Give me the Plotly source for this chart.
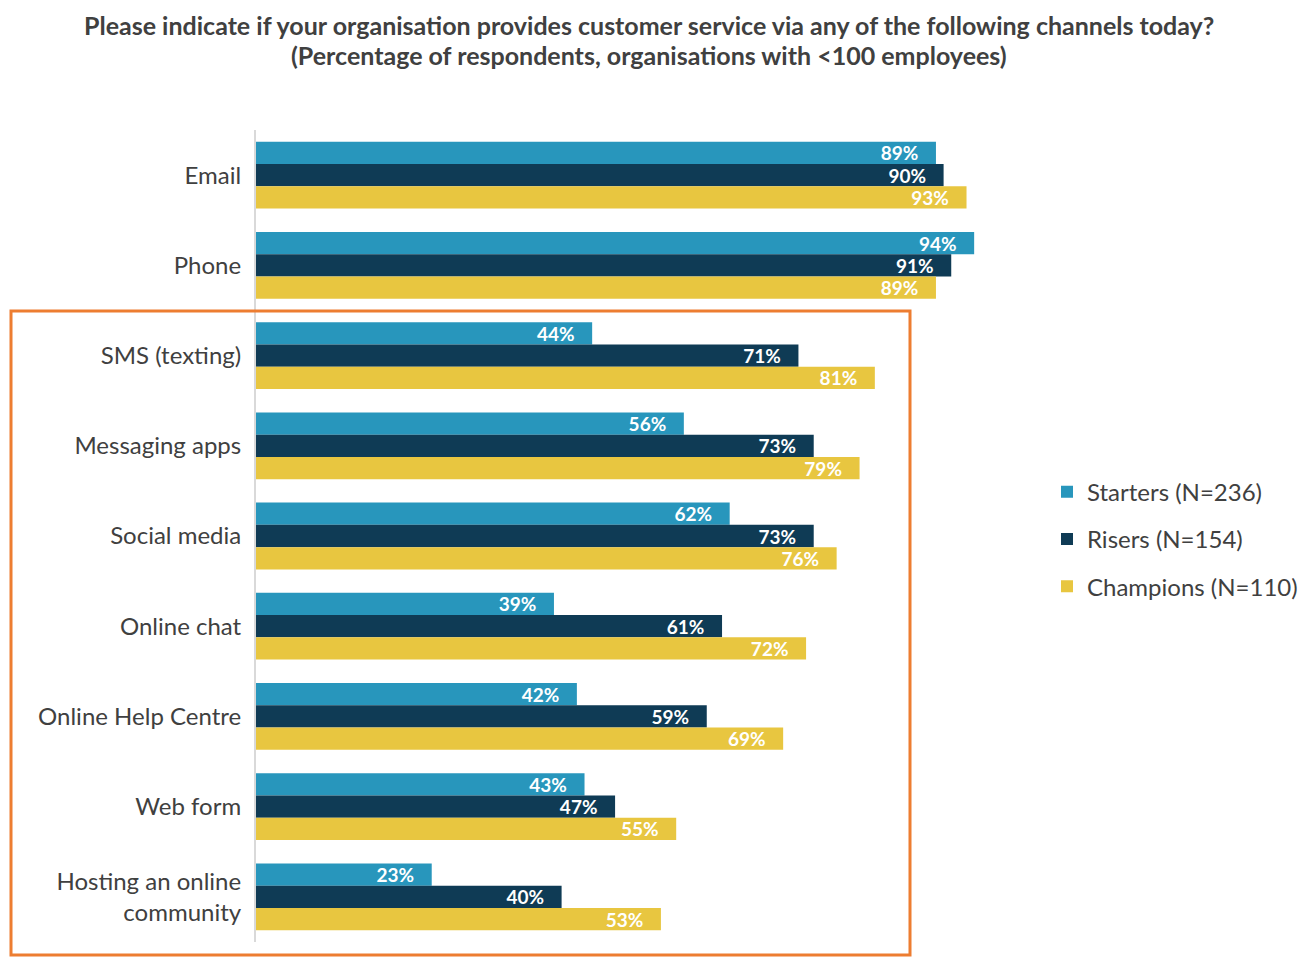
import plotly.graph_objects as go

categories = ["Email", "Phone", "SMS (texting)", "Messaging apps", "Social media",
              "Online chat", "Online Help Centre", "Web form",
              "Hosting an online<br>community"]
starters = [89, 94, 44, 56, 62, 39, 42, 43, 23]
risers = [90, 91, 71, 73, 73, 61, 59, 47, 40]
champions = [93, 89, 81, 79, 76, 72, 69, 55, 53]

series_names = ["Starters (N=236)", "Risers (N=154)", "Champions (N=110)"]
series_colors = ["#2896BC", "#0F3B55", "#E8C640"]

title_lines = [
    "Please indicate if your organisation provides customer service via any of the following channels today?",
    "(Percentage of respondents, organisations with <100 employees)",
]

FONT = "Lato, Noto Sans, sans-serif"
PAD = "\u00a0\u00a0\u00a0"  # push value labels in from the bar end

fig = go.Figure()
for i, (name, vals, col) in enumerate(zip(series_names, [starters, risers, champions], series_colors)):
    fig.add_trace(go.Bar(
        y=categories,
        x=vals,
        name=name,
        orientation="h",
        marker_color=col,
        marker_line_width=0,
        text=[f"<b>{v}%</b>{PAD}" for v in vals],
        textposition="inside",
        insidetextanchor="end",
        constraintext="none",
        textangle=0,
        textfont=dict(family=FONT, size=19, color="white"),
        legendgroup=f"g{i}",
    ))

# the page body has an 8px margin, so figure coords are offset by -8
fig.update_layout(
    width=1313, height=957,
    barmode="group",
    bargap=0.26,
    bargroupgap=0,
    plot_bgcolor="white",
    paper_bgcolor="white",
    font=dict(family=FONT, color="#404040"),
    margin=dict(l=248, r=301, t=122, b=23),
    legend=dict(
        x=1039 / 1313, xref="container", xanchor="left",
        y=0.496, yanchor="middle",
        font=dict(family=FONT, size=24, color="#404040"),
        traceorder="grouped",
        tracegroupgap=13,
        itemwidth=30,
    ),
    showlegend=True,
)

# title as two annotations so each line sits where the reference has it
for line, ypx in zip(title_lines, [17, 47]):
    fig.add_annotation(
        text=f"<b>{line}</b>",
        xref="paper", yref="paper",
        x=(641 - 248) / 764, y=1 + (122 - ypx) / 812,
        xanchor="center", yanchor="middle",
        showarrow=False,
        font=dict(family=FONT, size=25, color="#404040"),
    )

fig.update_xaxes(range=[0, 100], visible=False, showgrid=False, zeroline=False)
fig.update_yaxes(
    autorange="reversed",
    showgrid=False,
    showline=True, linecolor="#D9D9D9", linewidth=2,
    ticks="", ticklabelstandoff=8,
    tickfont=dict(family=FONT, size=24, color="#404040"),
)

# orange highlight box around the newer channels
fig.add_shape(
    type="rect", xref="paper", yref="paper",
    x0=(3 - 248) / 764, x1=(902 - 248) / 764,
    y0=(934 - 947) / 812, y1=(934 - 303) / 812,
    line=dict(color="#ED7D31", width=3),
    fillcolor="rgba(0,0,0,0)",
    layer="above",
)

fig.write_html("out.html")
